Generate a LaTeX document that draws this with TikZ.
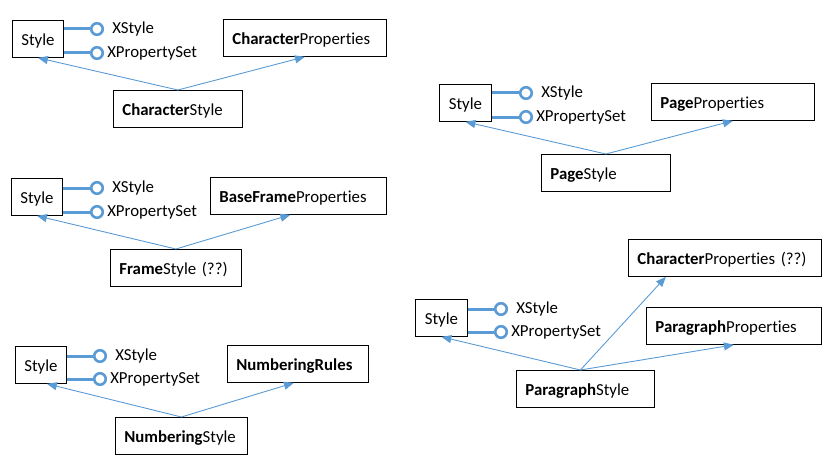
\documentclass[tikz,border=0pt]{standalone}
\usepackage{fontspec}
\setmainfont[Ligatures=NoCommon]{Carlito}
\usetikzlibrary{arrows.meta,positioning}
\definecolor{iface}{HTML}{5B9BD5}

\begin{document}
\begin{tikzpicture}[x=1pt,y=-1pt,
  every node/.style={font=\fontsize{16.8}{19}\selectfont},
  box/.style={draw,line width=0.8pt,anchor=north west,minimum height=37pt,inner xsep=9pt,inner ysep=0pt,text height=15pt,text depth=1pt,text width=#1},
  stybox/.style={box=#1,align=center},
  lolli/.style={draw=iface,line width=2.6pt,circle,inner sep=0pt,minimum size=11.5pt},
  lbl/.style={inner sep=0pt},
  ifline/.style={iface,line width=3pt},
  inh/.style={iface,line width=0.9pt,-{Triangle[length=10pt,width=8pt]}}]
\useasboundingbox (0,0) rectangle (834,468);
\node[stybox=33pt] (sty1) at (12,20) {Style};
\node[box=145pt] (cp1) at (223,19) {\textbf{Character}Properties};
\node[box=111pt] (cs1) at (113,90) {\textbf{Character}Style};
\node[lolli] (xs1) at (97,29) {};
\node[lolli] (xp1) at (97,53) {};
\node[lbl,right=8pt of xs1] (lxs1) {XStyle};
\node[lbl,right=3pt of xp1] (lxp1) {XPropertySet};
\draw[ifline] (sty1.east |- xs1) -- (xs1);
\draw[ifline] (sty1.east |- xp1) -- (xp1);
\draw[inh] (cs1.north) -- (sty1.south);
\draw[inh] (cs1.north) -- (cp1.south);
\node[stybox=34pt] (sty2) at (439,84) {Style};
\node[box=145pt] (pp2) at (651,83) {\textbf{Page}Properties};
\node[box=111pt] (ps2) at (541,154) {\textbf{Page}Style};
\node[lolli] (xs2) at (526,93) {};
\node[lolli] (xp2) at (526,117) {};
\node[lbl,right=8pt of xs2] (lxs2) {XStyle};
\node[lbl,right=3pt of xp2] (lxp2) {XPropertySet};
\draw[ifline] (sty2.east |- xs2) -- (xs2);
\draw[ifline] (sty2.east |- xp2) -- (xp2);
\draw[inh] (ps2.north) -- (sty2.south);
\draw[inh] (ps2.north) -- (pp2.south);
\node[stybox=33pt] (sty3) at (11,178) {Style};
\node[box=158pt] (bfp3) at (210,177) {\textbf{BaseFrame}Properties};
\node[box=113pt] (fs3) at (110,249) {\textbf{Frame}Style (??)};
\node[lolli] (xs3) at (97,188) {};
\node[lolli] (xp3) at (97,212) {};
\node[lbl,right=8pt of xs3] (lxs3) {XStyle};
\node[lbl,right=3pt of xp3] (lxp3) {XPropertySet};
\draw[ifline] (sty3.east |- xs3) -- (xs3);
\draw[ifline] (sty3.east |- xp3) -- (xp3);
\draw[inh] (fs3.north) -- (sty3.south);
\draw[inh] (fs3.north) -- ([xshift=-8pt]bfp3.south);
\node[stybox=33pt] (sty4) at (15,346) {Style};
\node[box=123pt] (nr4) at (227,345) {\textbf{NumberingRules}};
\node[box=114pt] (ns4) at (115,417) {\textbf{Numbering}Style};
\node[lolli] (xs4) at (100,356) {};
\node[lolli] (xp4) at (100,379) {};
\node[lbl,right=8pt of xs4] (lxs4) {XStyle};
\node[lbl,right=3pt of xp4] (lxp4) {XPropertySet};
\draw[ifline] (sty4.east |- xs4) -- (xs4);
\draw[ifline] (sty4.east |- xp4) -- (xp4);
\draw[inh] (ns4.north) -- ([xshift=6pt]sty4.south);
\draw[inh] (ns4.north) -- ([xshift=-4pt]nr4.south);
\node[stybox=34pt] (sty5) at (415,299) {Style};
\node[box=175pt] (cpq5) at (628,239) {\textbf{Character}Properties (??)};
\node[box=157pt] (pp5) at (646,307) {\textbf{Paragraph}Properties};
\node[box=120pt] (pgs5) at (516,370) {\textbf{Paragraph}Style};
\node[lolli] (xs5) at (501,309) {};
\node[lolli] (xp5) at (501,332) {};
\node[lbl,right=8pt of xs5] (lxs5) {XStyle};
\node[lbl,right=3pt of xp5] (lxp5) {XPropertySet};
\draw[ifline] (sty5.east |- xs5) -- (xs5);
\draw[ifline] (sty5.east |- xp5) -- (xp5);
\draw[inh] ([xshift=-5pt]pgs5.north) -- (sty5.south);
\draw[inh] ([xshift=-5pt]pgs5.north) -- ([xshift=-59pt]cpq5.south);
\draw[inh] ([xshift=-5pt]pgs5.north) -- (pp5.south);
\end{tikzpicture}
\end{document}
